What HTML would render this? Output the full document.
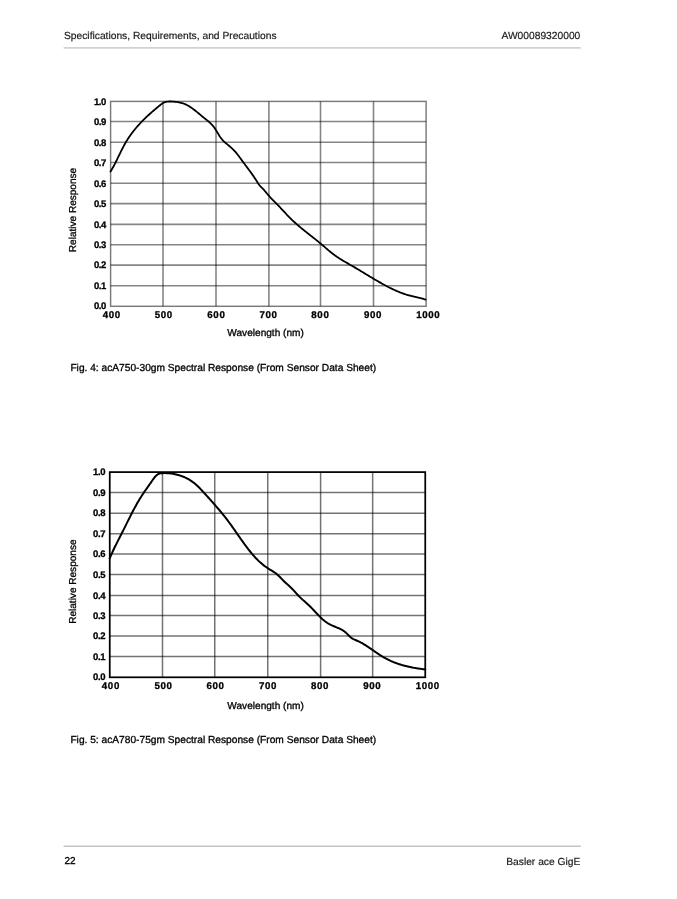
<!DOCTYPE html>
<html><head><meta charset="utf-8"><title>Basler ace GigE - Spectral Response</title>
<style>
html,body{margin:0;padding:0;background:#fff;}
body{width:677px;height:899px;overflow:hidden;}
svg{display:block;will-change:transform;}
text{font-family:"Liberation Sans", sans-serif;fill:#000;stroke:#000;stroke-width:0.3px;text-rendering:geometricPrecision;}
text.hf{stroke-width:0.18px;fill:#1a1a1a;stroke:#1a1a1a;}
</style></head>
<body>
<svg width="677" height="899" viewBox="0 0 677 899">
<rect width="677" height="899" fill="#fff"/>
<text class="hf" x="64" y="39.3" font-size="10.25">Specifications, Requirements, and Precautions</text>
<text class="hf" x="580.3" y="39.3" font-size="10.25" text-anchor="end">AW00089320000</text>
<line x1="63.6" y1="47.9" x2="580.8" y2="47.9" stroke="#d2d2d2" stroke-width="1.6"/>
<line x1="163.00" y1="101.40" x2="163.00" y2="306.30" stroke="#000" stroke-opacity="0.48" stroke-width="1.6"/>
<line x1="216.00" y1="101.40" x2="216.00" y2="306.30" stroke="#000" stroke-opacity="0.48" stroke-width="1.6"/>
<line x1="268.90" y1="101.40" x2="268.90" y2="306.30" stroke="#000" stroke-opacity="0.48" stroke-width="1.6"/>
<line x1="320.50" y1="101.40" x2="320.50" y2="306.30" stroke="#000" stroke-opacity="0.48" stroke-width="1.6"/>
<line x1="373.50" y1="101.40" x2="373.50" y2="306.30" stroke="#000" stroke-opacity="0.48" stroke-width="1.6"/>
<line x1="110.60" y1="285.80" x2="426.10" y2="285.80" stroke="#000" stroke-opacity="0.48" stroke-width="1.6"/>
<line x1="110.60" y1="265.10" x2="426.10" y2="265.10" stroke="#000" stroke-opacity="0.48" stroke-width="1.6"/>
<line x1="110.60" y1="244.70" x2="426.10" y2="244.70" stroke="#000" stroke-opacity="0.48" stroke-width="1.6"/>
<line x1="110.60" y1="224.40" x2="426.10" y2="224.40" stroke="#000" stroke-opacity="0.48" stroke-width="1.6"/>
<line x1="110.60" y1="203.60" x2="426.10" y2="203.60" stroke="#000" stroke-opacity="0.48" stroke-width="1.6"/>
<line x1="110.60" y1="183.30" x2="426.10" y2="183.30" stroke="#000" stroke-opacity="0.48" stroke-width="1.6"/>
<line x1="110.60" y1="162.50" x2="426.10" y2="162.50" stroke="#000" stroke-opacity="0.48" stroke-width="1.6"/>
<line x1="110.60" y1="142.30" x2="426.10" y2="142.30" stroke="#000" stroke-opacity="0.48" stroke-width="1.6"/>
<line x1="110.60" y1="121.50" x2="426.10" y2="121.50" stroke="#000" stroke-opacity="0.48" stroke-width="1.6"/>
<rect x="110.60" y="101.40" width="315.50" height="204.90" fill="none" stroke="#000" stroke-opacity="0.52" stroke-width="1.45"/>
<path d="M110.54,171.55 L111.09,170.65 L111.64,169.73 L112.17,168.81 L112.70,167.88 L113.21,166.95 L113.72,166.01 L114.22,165.07 L114.72,164.13 L115.20,163.17 L115.69,162.22 L116.17,161.26 L116.64,160.31 L117.11,159.34 L117.58,158.38 L118.05,157.42 L118.52,156.45 L118.99,155.49 L119.45,154.52 L119.92,153.56 L120.39,152.60 L120.86,151.63 L121.34,150.67 L121.82,149.72 L122.30,148.76 L122.79,147.81 L123.29,146.86 L123.79,145.92 L124.30,144.98 L124.81,144.05 L125.34,143.12 L125.87,142.20 L126.42,141.28 L126.97,140.37 L127.54,139.47 L128.12,138.57 L128.70,137.68 L129.30,136.79 L129.90,135.92 L130.52,135.05 L131.14,134.18 L131.77,133.32 L132.41,132.47 L133.06,131.62 L133.72,130.78 L134.39,129.95 L135.07,129.12 L135.75,128.30 L136.44,127.49 L137.14,126.68 L137.84,125.87 L138.55,125.08 L139.27,124.28 L140.00,123.50 L140.73,122.72 L141.47,121.94 L142.22,121.17 L142.97,120.41 L143.72,119.65 L144.49,118.90 L145.25,118.16 L146.02,117.42 L146.80,116.68 L147.58,115.95 L148.37,115.22 L149.16,114.50 L149.95,113.79 L150.74,113.08 L151.54,112.37 L152.34,111.67 L153.14,110.98 L153.95,110.28 L154.76,109.59 L155.57,108.91 L156.39,108.22 L157.21,107.54 L158.04,106.85 L158.87,106.17 L159.71,105.48 L160.56,104.79 L161.42,104.12 L162.30,103.48 L163.21,102.93 L164.15,102.48 L165.11,102.13 L166.10,101.86 L167.12,101.67 L168.15,101.55 L169.20,101.50 L170.27,101.48 L171.34,101.51 L172.43,101.57 L173.52,101.65 L174.61,101.74 L175.70,101.85 L176.79,101.97 L177.87,102.12 L178.94,102.30 L180.00,102.51 L181.04,102.76 L182.06,103.05 L183.06,103.38 L184.05,103.75 L185.02,104.15 L185.97,104.58 L186.91,105.05 L187.84,105.54 L188.75,106.06 L189.65,106.61 L190.54,107.18 L191.42,107.77 L192.29,108.38 L193.15,109.01 L194.01,109.66 L194.86,110.32 L195.70,110.98 L196.54,111.66 L197.38,112.35 L198.21,113.04 L199.04,113.74 L199.87,114.43 L200.70,115.13 L201.53,115.82 L202.36,116.52 L203.19,117.20 L204.03,117.87 L204.87,118.54 L205.71,119.21 L206.54,119.87 L207.37,120.54 L208.19,121.22 L209.00,121.90 L209.79,122.60 L210.56,123.32 L211.31,124.05 L212.04,124.81 L212.74,125.59 L213.41,126.41 L214.05,127.25 L214.67,128.13 L215.27,129.02 L215.84,129.93 L216.41,130.85 L216.97,131.78 L217.53,132.72 L218.08,133.65 L218.65,134.58 L219.22,135.50 L219.81,136.41 L220.42,137.30 L221.05,138.17 L221.71,139.01 L222.40,139.81 L223.12,140.59 L223.87,141.35 L224.64,142.08 L225.43,142.79 L226.23,143.49 L227.05,144.18 L227.87,144.87 L228.69,145.55 L229.51,146.23 L230.33,146.91 L231.14,147.61 L231.93,148.32 L232.71,149.04 L233.47,149.78 L234.20,150.55 L234.92,151.33 L235.62,152.13 L236.30,152.94 L236.97,153.77 L237.63,154.61 L238.28,155.46 L238.92,156.31 L239.56,157.17 L240.19,158.03 L240.82,158.90 L241.45,159.77 L242.08,160.63 L242.71,161.49 L243.35,162.35 L243.99,163.21 L244.63,164.07 L245.27,164.92 L245.91,165.78 L246.55,166.63 L247.19,167.49 L247.83,168.35 L248.46,169.20 L249.10,170.06 L249.73,170.92 L250.36,171.78 L250.99,172.65 L251.61,173.51 L252.22,174.38 L252.84,175.26 L253.44,176.13 L254.05,177.02 L254.64,177.90 L255.23,178.80 L255.81,179.69 L256.38,180.60 L256.95,181.51 L257.51,182.42 L258.09,183.32 L258.68,184.20 L259.32,185.05 L259.99,185.87 L260.71,186.65 L261.46,187.41 L262.22,188.16 L262.98,188.92 L263.72,189.69 L264.44,190.48 L265.14,191.29 L265.82,192.12 L266.50,192.95 L267.18,193.78 L267.87,194.59 L268.57,195.40 L269.28,196.20 L269.99,196.99 L270.72,197.77 L271.45,198.55 L272.19,199.32 L272.93,200.09 L273.68,200.85 L274.43,201.61 L275.18,202.37 L275.93,203.13 L276.68,203.89 L277.43,204.65 L278.17,205.42 L278.91,206.19 L279.65,206.96 L280.38,207.74 L281.11,208.52 L281.84,209.31 L282.57,210.09 L283.29,210.87 L284.02,211.66 L284.75,212.44 L285.48,213.22 L286.21,214.00 L286.94,214.78 L287.68,215.55 L288.42,216.32 L289.17,217.08 L289.92,217.84 L290.68,218.59 L291.44,219.34 L292.21,220.08 L292.99,220.81 L293.77,221.54 L294.55,222.26 L295.34,222.98 L296.14,223.69 L296.94,224.40 L297.74,225.10 L298.55,225.80 L299.36,226.49 L300.17,227.18 L300.99,227.86 L301.82,228.54 L302.64,229.22 L303.47,229.89 L304.30,230.56 L305.14,231.23 L305.97,231.89 L306.81,232.55 L307.65,233.22 L308.48,233.88 L309.32,234.54 L310.17,235.20 L311.01,235.86 L311.85,236.51 L312.69,237.17 L313.53,237.84 L314.37,238.50 L315.20,239.16 L316.04,239.83 L316.87,240.50 L317.70,241.17 L318.53,241.84 L319.36,242.52 L320.19,243.20 L321.01,243.89 L321.82,244.58 L322.64,245.27 L323.45,245.97 L324.26,246.67 L325.07,247.37 L325.87,248.07 L326.68,248.77 L327.49,249.47 L328.31,250.16 L329.12,250.85 L329.94,251.53 L330.77,252.21 L331.60,252.88 L332.44,253.54 L333.28,254.19 L334.14,254.83 L335.00,255.46 L335.87,256.07 L336.74,256.68 L337.62,257.28 L338.51,257.87 L339.41,258.45 L340.31,259.02 L341.21,259.58 L342.12,260.14 L343.04,260.69 L343.95,261.23 L344.87,261.77 L345.80,262.30 L346.72,262.83 L347.65,263.36 L348.58,263.88 L349.51,264.41 L350.43,264.94 L351.36,265.46 L352.29,266.00 L353.21,266.53 L354.13,267.07 L355.05,267.61 L355.97,268.15 L356.89,268.70 L357.81,269.25 L358.72,269.80 L359.64,270.35 L360.55,270.90 L361.47,271.46 L362.38,272.01 L363.30,272.57 L364.21,273.12 L365.12,273.67 L366.04,274.23 L366.95,274.78 L367.86,275.34 L368.78,275.89 L369.69,276.44 L370.61,276.99 L371.53,277.54 L372.45,278.09 L373.36,278.63 L374.28,279.17 L375.20,279.72 L376.13,280.25 L377.05,280.79 L377.98,281.33 L378.90,281.86 L379.83,282.39 L380.76,282.91 L381.69,283.43 L382.62,283.95 L383.56,284.47 L384.50,284.98 L385.44,285.48 L386.38,285.99 L387.32,286.49 L388.27,286.98 L389.22,287.47 L390.17,287.95 L391.13,288.42 L392.09,288.89 L393.05,289.35 L394.01,289.81 L394.98,290.25 L395.95,290.69 L396.93,291.12 L397.91,291.53 L398.89,291.94 L399.88,292.34 L400.87,292.73 L401.87,293.11 L402.87,293.47 L403.88,293.83 L404.89,294.17 L405.90,294.49 L406.93,294.81 L407.95,295.11 L408.98,295.40 L410.02,295.68 L411.06,295.95 L412.10,296.21 L413.14,296.46 L414.18,296.71 L415.23,296.96 L416.27,297.20 L417.32,297.45 L418.36,297.69 L419.40,297.94 L420.44,298.19 L421.48,298.45 L422.51,298.72 L423.53,298.99 L424.55,299.28 L425.57,299.57" fill="none" stroke="#000" stroke-width="1.8" stroke-linejoin="round" stroke-linecap="round"/>
<text x="106.05" y="308.65" text-anchor="end" font-weight="bold" font-size="9.5" letter-spacing="-0.35">0.0</text>
<text x="106.05" y="289.10" text-anchor="end" font-weight="bold" font-size="9.5" letter-spacing="-0.35">0.1</text>
<text x="106.05" y="268.40" text-anchor="end" font-weight="bold" font-size="9.5" letter-spacing="-0.35">0.2</text>
<text x="106.05" y="248.00" text-anchor="end" font-weight="bold" font-size="9.5" letter-spacing="-0.35">0.3</text>
<text x="106.05" y="227.70" text-anchor="end" font-weight="bold" font-size="9.5" letter-spacing="-0.35">0.4</text>
<text x="106.05" y="206.90" text-anchor="end" font-weight="bold" font-size="9.5" letter-spacing="-0.35">0.5</text>
<text x="106.05" y="186.60" text-anchor="end" font-weight="bold" font-size="9.5" letter-spacing="-0.35">0.6</text>
<text x="106.05" y="165.80" text-anchor="end" font-weight="bold" font-size="9.5" letter-spacing="-0.35">0.7</text>
<text x="106.05" y="145.60" text-anchor="end" font-weight="bold" font-size="9.5" letter-spacing="-0.35">0.8</text>
<text x="106.05" y="124.80" text-anchor="end" font-weight="bold" font-size="9.5" letter-spacing="-0.35">0.9</text>
<text x="106.05" y="104.70" text-anchor="end" font-weight="bold" font-size="9.5" letter-spacing="-0.35">1.0</text>
<text x="111.75" y="318.20" text-anchor="middle" font-weight="bold" font-size="9.7" letter-spacing="0.65">400</text>
<text x="163.82" y="318.20" text-anchor="middle" font-weight="bold" font-size="9.7" letter-spacing="0.65">500</text>
<text x="216.40" y="318.20" text-anchor="middle" font-weight="bold" font-size="9.7" letter-spacing="0.65">600</text>
<text x="268.50" y="318.20" text-anchor="middle" font-weight="bold" font-size="9.7" letter-spacing="0.65">700</text>
<text x="320.40" y="318.20" text-anchor="middle" font-weight="bold" font-size="9.7" letter-spacing="0.65">800</text>
<text x="372.95" y="318.20" text-anchor="middle" font-weight="bold" font-size="9.7" letter-spacing="0.65">900</text>
<text x="428.30" y="318.20" text-anchor="middle" font-weight="bold" font-size="9.7" letter-spacing="0.65">1000</text>
<text x="265.60" y="336.20" text-anchor="middle" font-size="10.1">Wavelength (nm)</text>
<text transform="translate(76.2,210.00) rotate(-90)" text-anchor="middle" font-size="10.05">Relative Response</text>
<text x="70.4" y="370.7" font-size="10.2">Fig. 4: acA750-30gm Spectral Response (From Sensor Data Sheet)</text>
<line x1="162.50" y1="472.10" x2="162.50" y2="677.30" stroke="#000" stroke-opacity="0.55" stroke-width="1.5"/>
<line x1="214.75" y1="472.10" x2="214.75" y2="677.30" stroke="#000" stroke-opacity="0.55" stroke-width="1.5"/>
<line x1="267.75" y1="472.10" x2="267.75" y2="677.30" stroke="#000" stroke-opacity="0.55" stroke-width="1.5"/>
<line x1="320.60" y1="472.10" x2="320.60" y2="677.30" stroke="#000" stroke-opacity="0.55" stroke-width="1.5"/>
<line x1="372.65" y1="472.10" x2="372.65" y2="677.30" stroke="#000" stroke-opacity="0.55" stroke-width="1.5"/>
<line x1="109.75" y1="656.60" x2="425.25" y2="656.60" stroke="#000" stroke-opacity="0.55" stroke-width="1.5"/>
<line x1="109.75" y1="636.10" x2="425.25" y2="636.10" stroke="#000" stroke-opacity="0.55" stroke-width="1.5"/>
<line x1="109.75" y1="615.60" x2="425.25" y2="615.60" stroke="#000" stroke-opacity="0.55" stroke-width="1.5"/>
<line x1="109.75" y1="595.45" x2="425.25" y2="595.45" stroke="#000" stroke-opacity="0.55" stroke-width="1.5"/>
<line x1="109.75" y1="574.55" x2="425.25" y2="574.55" stroke="#000" stroke-opacity="0.55" stroke-width="1.5"/>
<line x1="109.75" y1="554.10" x2="425.25" y2="554.10" stroke="#000" stroke-opacity="0.55" stroke-width="1.5"/>
<line x1="109.75" y1="533.80" x2="425.25" y2="533.80" stroke="#000" stroke-opacity="0.55" stroke-width="1.5"/>
<line x1="109.75" y1="513.15" x2="425.25" y2="513.15" stroke="#000" stroke-opacity="0.55" stroke-width="1.5"/>
<line x1="109.75" y1="492.45" x2="425.25" y2="492.45" stroke="#000" stroke-opacity="0.55" stroke-width="1.5"/>
<rect x="109.75" y="472.10" width="315.50" height="205.20" fill="none" stroke="#000" stroke-opacity="1" stroke-width="1.75"/>
<path d="M109.71,558.37 L110.13,557.35 L110.56,556.33 L111.00,555.31 L111.45,554.30 L111.90,553.29 L112.35,552.29 L112.81,551.28 L113.28,550.28 L113.75,549.29 L114.22,548.29 L114.70,547.30 L115.18,546.31 L115.67,545.32 L116.16,544.33 L116.65,543.35 L117.14,542.37 L117.64,541.38 L118.14,540.40 L118.64,539.42 L119.14,538.44 L119.64,537.46 L120.14,536.48 L120.64,535.50 L121.15,534.52 L121.65,533.53 L122.15,532.55 L122.65,531.57 L123.15,530.58 L123.65,529.60 L124.14,528.61 L124.64,527.62 L125.13,526.63 L125.62,525.64 L126.11,524.65 L126.61,523.65 L127.10,522.66 L127.59,521.67 L128.08,520.68 L128.58,519.69 L129.07,518.69 L129.57,517.70 L130.06,516.71 L130.56,515.73 L131.06,514.74 L131.57,513.75 L132.07,512.77 L132.58,511.79 L133.09,510.81 L133.61,509.83 L134.13,508.85 L134.65,507.88 L135.17,506.91 L135.70,505.95 L136.24,504.98 L136.78,504.02 L137.32,503.07 L137.87,502.12 L138.43,501.17 L138.99,500.23 L139.56,499.29 L140.13,498.35 L140.71,497.42 L141.30,496.50 L141.89,495.58 L142.49,494.66 L143.10,493.75 L143.71,492.84 L144.33,491.94 L144.95,491.03 L145.57,490.13 L146.20,489.22 L146.84,488.32 L147.47,487.41 L148.11,486.50 L148.75,485.59 L149.40,484.67 L150.04,483.75 L150.69,482.83 L151.34,481.90 L151.98,480.96 L152.63,480.02 L153.29,479.08 L153.95,478.16 L154.64,477.27 L155.36,476.44 L156.11,475.67 L156.90,474.98 L157.75,474.38 L158.66,473.90 L159.64,473.54 L160.68,473.31 L161.77,473.19 L162.89,473.13 L164.02,473.10 L165.14,473.10 L166.27,473.13 L167.39,473.18 L168.51,473.25 L169.62,473.35 L170.73,473.47 L171.83,473.62 L172.92,473.79 L174.01,473.98 L175.08,474.19 L176.14,474.42 L177.19,474.67 L178.24,474.95 L179.27,475.25 L180.30,475.58 L181.33,475.94 L182.35,476.32 L183.37,476.73 L184.38,477.17 L185.39,477.63 L186.38,478.12 L187.37,478.64 L188.35,479.18 L189.32,479.74 L190.27,480.33 L191.21,480.94 L192.13,481.58 L193.03,482.23 L193.91,482.90 L194.77,483.59 L195.62,484.30 L196.44,485.03 L197.26,485.77 L198.05,486.53 L198.84,487.29 L199.61,488.07 L200.38,488.86 L201.13,489.66 L201.89,490.46 L202.63,491.26 L203.37,492.08 L204.11,492.89 L204.85,493.71 L205.59,494.52 L206.34,495.34 L207.08,496.15 L207.82,496.97 L208.56,497.79 L209.30,498.61 L210.03,499.43 L210.77,500.25 L211.51,501.08 L212.24,501.90 L212.98,502.73 L213.71,503.56 L214.44,504.39 L215.17,505.22 L215.89,506.05 L216.62,506.89 L217.34,507.73 L218.06,508.57 L218.78,509.41 L219.49,510.25 L220.20,511.10 L220.91,511.95 L221.61,512.80 L222.31,513.65 L223.01,514.51 L223.70,515.37 L224.39,516.23 L225.08,517.10 L225.76,517.97 L226.43,518.84 L227.10,519.72 L227.77,520.60 L228.43,521.48 L229.09,522.37 L229.74,523.26 L230.39,524.15 L231.03,525.04 L231.68,525.94 L232.31,526.84 L232.95,527.74 L233.59,528.64 L234.22,529.54 L234.85,530.44 L235.48,531.35 L236.11,532.25 L236.74,533.16 L237.37,534.07 L238.00,534.97 L238.63,535.88 L239.26,536.78 L239.89,537.69 L240.53,538.59 L241.16,539.49 L241.80,540.39 L242.44,541.29 L243.08,542.19 L243.73,543.08 L244.38,543.97 L245.03,544.86 L245.68,545.75 L246.35,546.64 L247.01,547.52 L247.68,548.39 L248.36,549.27 L249.04,550.14 L249.73,551.00 L250.42,551.87 L251.12,552.72 L251.83,553.57 L252.54,554.42 L253.27,555.25 L254.00,556.08 L254.74,556.90 L255.48,557.72 L256.24,558.52 L257.01,559.31 L257.79,560.09 L258.57,560.86 L259.37,561.62 L260.18,562.37 L261.00,563.10 L261.84,563.82 L262.68,564.52 L263.54,565.21 L264.41,565.88 L265.30,566.54 L266.20,567.17 L267.11,567.79 L268.04,568.40 L268.98,568.99 L269.92,569.57 L270.87,570.15 L271.81,570.72 L272.75,571.31 L273.68,571.90 L274.60,572.52 L275.50,573.15 L276.38,573.81 L277.23,574.49 L278.06,575.21 L278.86,575.96 L279.64,576.74 L280.41,577.53 L281.18,578.33 L281.94,579.13 L282.70,579.94 L283.47,580.73 L284.26,581.51 L285.07,582.27 L285.89,583.01 L286.73,583.73 L287.56,584.46 L288.39,585.19 L289.20,585.93 L290.00,586.69 L290.78,587.45 L291.56,588.23 L292.32,589.03 L293.08,589.83 L293.82,590.63 L294.57,591.45 L295.31,592.27 L296.05,593.09 L296.80,593.92 L297.54,594.73 L298.30,595.54 L299.07,596.34 L299.85,597.12 L300.64,597.88 L301.44,598.63 L302.25,599.38 L303.07,600.12 L303.88,600.85 L304.70,601.58 L305.53,602.31 L306.35,603.04 L307.17,603.77 L307.98,604.51 L308.79,605.26 L309.59,606.02 L310.38,606.79 L311.16,607.57 L311.94,608.37 L312.71,609.17 L313.47,609.97 L314.23,610.78 L314.99,611.60 L315.75,612.41 L316.51,613.22 L317.27,614.03 L318.04,614.83 L318.81,615.63 L319.59,616.41 L320.37,617.19 L321.17,617.95 L321.97,618.70 L322.79,619.43 L323.62,620.14 L324.46,620.83 L325.32,621.50 L326.20,622.14 L327.10,622.76 L328.02,623.35 L328.96,623.90 L329.92,624.43 L330.91,624.93 L331.91,625.39 L332.93,625.84 L333.96,626.28 L334.99,626.70 L336.03,627.12 L337.06,627.55 L338.09,627.98 L339.10,628.43 L340.10,628.90 L341.08,629.39 L342.03,629.91 L342.96,630.47 L343.87,631.06 L344.75,631.70 L345.59,632.39 L346.40,633.12 L347.19,633.89 L347.97,634.69 L348.75,635.48 L349.54,636.26 L350.35,637.01 L351.20,637.70 L352.10,638.32 L353.05,638.87 L354.04,639.36 L355.05,639.82 L356.07,640.28 L357.08,640.74 L358.09,641.21 L359.09,641.69 L360.09,642.18 L361.07,642.68 L362.05,643.20 L363.01,643.74 L363.95,644.29 L364.89,644.87 L365.82,645.45 L366.74,646.05 L367.66,646.66 L368.57,647.27 L369.48,647.89 L370.39,648.51 L371.30,649.14 L372.21,649.77 L373.12,650.40 L374.03,651.03 L374.94,651.66 L375.85,652.29 L376.76,652.91 L377.68,653.53 L378.60,654.14 L379.52,654.75 L380.45,655.34 L381.39,655.93 L382.33,656.51 L383.27,657.07 L384.23,657.63 L385.19,658.17 L386.15,658.69 L387.13,659.20 L388.11,659.69 L389.10,660.17 L390.10,660.63 L391.11,661.09 L392.12,661.52 L393.13,661.95 L394.16,662.36 L395.19,662.75 L396.22,663.14 L397.26,663.51 L398.30,663.87 L399.35,664.21 L400.40,664.55 L401.46,664.87 L402.52,665.18 L403.59,665.48 L404.66,665.77 L405.73,666.04 L406.80,666.31 L407.88,666.57 L408.96,666.81 L410.04,667.05 L411.12,667.27 L412.21,667.49 L413.30,667.69 L414.39,667.89 L415.47,668.08 L416.56,668.25 L417.65,668.42 L418.75,668.59 L419.84,668.74 L420.93,668.88 L422.02,669.02 L423.10,669.15 L424.19,669.27 L425.28,669.39" fill="none" stroke="#000" stroke-width="2.0" stroke-linejoin="round" stroke-linecap="round"/>
<text x="105.20" y="679.55" text-anchor="end" font-weight="bold" font-size="9.5" letter-spacing="-0.35">0.0</text>
<text x="105.20" y="659.80" text-anchor="end" font-weight="bold" font-size="9.5" letter-spacing="-0.35">0.1</text>
<text x="105.20" y="639.30" text-anchor="end" font-weight="bold" font-size="9.5" letter-spacing="-0.35">0.2</text>
<text x="105.20" y="618.80" text-anchor="end" font-weight="bold" font-size="9.5" letter-spacing="-0.35">0.3</text>
<text x="105.20" y="598.65" text-anchor="end" font-weight="bold" font-size="9.5" letter-spacing="-0.35">0.4</text>
<text x="105.20" y="577.75" text-anchor="end" font-weight="bold" font-size="9.5" letter-spacing="-0.35">0.5</text>
<text x="105.20" y="557.30" text-anchor="end" font-weight="bold" font-size="9.5" letter-spacing="-0.35">0.6</text>
<text x="105.20" y="537.00" text-anchor="end" font-weight="bold" font-size="9.5" letter-spacing="-0.35">0.7</text>
<text x="105.20" y="516.35" text-anchor="end" font-weight="bold" font-size="9.5" letter-spacing="-0.35">0.8</text>
<text x="105.20" y="495.65" text-anchor="end" font-weight="bold" font-size="9.5" letter-spacing="-0.35">0.9</text>
<text x="105.20" y="475.30" text-anchor="end" font-weight="bold" font-size="9.5" letter-spacing="-0.35">1.0</text>
<text x="110.90" y="689.20" text-anchor="middle" font-weight="bold" font-size="9.7" letter-spacing="0.65">400</text>
<text x="163.55" y="689.20" text-anchor="middle" font-weight="bold" font-size="9.7" letter-spacing="0.65">500</text>
<text x="215.55" y="689.20" text-anchor="middle" font-weight="bold" font-size="9.7" letter-spacing="0.65">600</text>
<text x="268.00" y="689.20" text-anchor="middle" font-weight="bold" font-size="9.7" letter-spacing="0.65">700</text>
<text x="320.10" y="689.20" text-anchor="middle" font-weight="bold" font-size="9.7" letter-spacing="0.65">800</text>
<text x="372.30" y="689.20" text-anchor="middle" font-weight="bold" font-size="9.7" letter-spacing="0.65">900</text>
<text x="427.75" y="689.20" text-anchor="middle" font-weight="bold" font-size="9.7" letter-spacing="0.65">1000</text>
<text x="265.60" y="708.50" text-anchor="middle" font-size="10.1">Wavelength (nm)</text>
<text transform="translate(76.2,581.65) rotate(-90)" text-anchor="middle" font-size="10.05">Relative Response</text>
<text x="70.4" y="742.7" font-size="10.2">Fig. 5: acA780-75gm Spectral Response (From Sensor Data Sheet)</text>
<line x1="63.6" y1="846.3" x2="580.8" y2="846.3" stroke="#c4c4c4" stroke-width="1.6"/>
<text x="64.6" y="864.3" font-size="10" letter-spacing="-0.2">22</text>
<text class="hf" x="580.3" y="865.0" font-size="10.25" text-anchor="end">Basler ace GigE</text>
</svg>
</body></html>
